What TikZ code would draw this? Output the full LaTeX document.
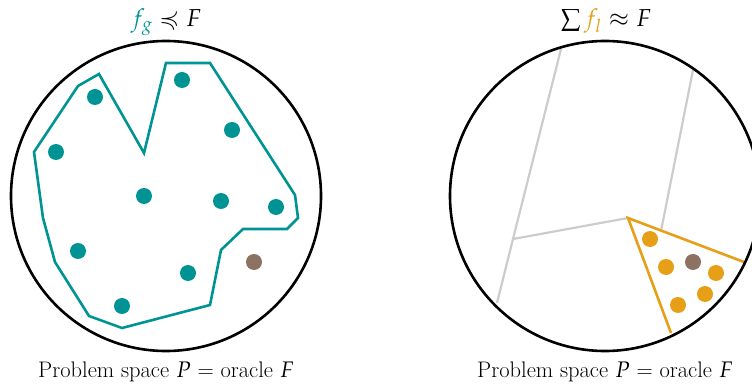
\documentclass[tikz,border=0pt]{standalone}
\usepackage{mathpazo}
\usepackage{amssymb}
\definecolor{tealc}{HTML}{009393}
\definecolor{brownc}{HTML}{8B7262}
\definecolor{orangec}{HTML}{E69F17}
\definecolor{grayc}{HTML}{CCCCCC}
\begin{document}
\begin{tikzpicture}[x=1pt,y=-1pt,
  space/.style={circle,draw=black,line width=2.6pt,minimum size=310pt,inner sep=0pt,outer sep=0pt},
  tdot/.style={circle,fill=tealc,minimum size=16pt,inner sep=0pt},
  odot/.style={circle,fill=orangec,minimum size=16pt,inner sep=0pt},
  bdot/.style={circle,fill=brownc,minimum size=16pt,inner sep=0pt},
  lbl/.style={font=\fontsize{22.5}{26}\selectfont,inner sep=0pt,anchor=base},
  ttl/.style={font=\fontsize{24.5}{28}\selectfont,inner sep=0pt,anchor=base},
  region/.style={line width=2.6pt,line join=miter},
  part/.style={grayc,line width=2.2pt}]
\useasboundingbox (0,0) rectangle (752,387);
\clip (0,0) rectangle (752,387);
% left
\node[ttl] (t1) at (166,27) {${\color{tealc}f_g} \preccurlyeq F$};
\node[lbl] (b1) at (166,377) {Problem space $P$ = oracle $F$};
\draw[region,tealc] (78,86) -- (99,74) -- (144,153) -- (166,63) -- (210,63) -- (295,195)
  -- (298,218) -- (287,229) -- (243,229) -- (221,250) -- (210,305) -- (122,328)
  -- (89,316) -- (55,262) -- (43,218) -- (34,152) -- cycle;
\node[space] (P1) at (166,196) {};
\node[tdot] (g1) at (95,97) {};
\node[tdot] (g2) at (182,80) {};
\node[tdot] (g3) at (232,130) {};
\node[tdot] (g4) at (56,152) {};
\node[tdot] (g5) at (144,196) {};
\node[tdot] (g6) at (221,201) {};
\node[tdot] (g7) at (276,207) {};
\node[tdot] (g8) at (78,251) {};
\node[tdot] (g9) at (188,273) {};
\node[tdot] (g10) at (122,306) {};
\node[bdot] (x1) at (254,262) {};
% right
\node[ttl] (t2) at (606,27) {$\sum {\color{orangec}f_l} \approx F$};
\node[lbl] (b2) at (605,377) {Problem space $P$ = oracle $F$};
\coordinate (a1) at (561,49);
\coordinate (a2) at (513,239);
\coordinate (a3) at (497,303);
\coordinate (c1) at (693,70);
\coordinate (c2) at (661,231);
\coordinate (o) at (628,218);
\coordinate (o1) at (744,262);
\coordinate (o2) at (671,333);
\draw[part] (a1) -- (a2) -- (a3);
\draw[part] (a2) -- (o);
\draw[part] (c1) -- (c2);
\draw[region,orangec] (o1) -- (o) -- (o2);
\node[space] (P2) at (605,196) {};
\node[odot] (l1) at (650,239) {};
\node[odot] (l2) at (666,267) {};
\node[bdot] (x2) at (693,262) {};
\node[odot] (l3) at (716,273) {};
\node[odot] (l4) at (705,294) {};
\node[odot] (l5) at (678,305) {};
\end{tikzpicture}
\end{document}
